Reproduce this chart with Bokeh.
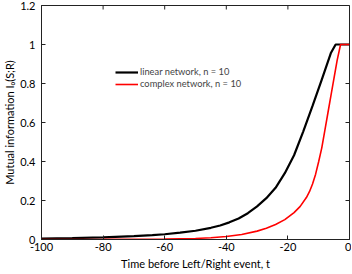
import math
from bokeh.plotting import figure
from bokeh.models import (Range1d, LinearAxis, FixedTicker, CustomJSTickFormatter,
                          Legend, LegendItem, ColumnDataSource)
from bokeh.embed import file_html
from bokeh.resources import INLINE

# ---- data ----
t_linear = [-100, -90, -80, -70, -64, -60, -55, -50, -45, -42, -39, -36, -33, -30,
            -27, -24, -21, -18, -15, -12, -9, -6, -4.5, 0]
i_linear = [0.004, 0.007, 0.011, 0.017, 0.022, 0.027, 0.035, 0.045, 0.060, 0.072,
            0.088, 0.108, 0.135, 0.170, 0.212, 0.265, 0.340, 0.432, 0.555, 0.685,
            0.820, 0.958, 1.0, 1.0]

t_complex = [-100, -80, -60, -50, -45, -40, -35, -30, -27, -24, -21, -18, -16, -14,
             -13, -12, -11, -10, -9, -8, -7, -6, -5, -4, -2.9, 0]
i_complex = [0.0, 0.0005, 0.002, 0.005, 0.009, 0.015, 0.026, 0.043, 0.058, 0.077,
             0.102, 0.138, 0.170, 0.215, 0.245, 0.285, 0.335, 0.400, 0.470, 0.560,
             0.650, 0.740, 0.830, 0.920, 1.0, 1.0]

x_ticks = [-100, -80, -60, -40, -20, 0]
y_ticks = [0, 0.2, 0.4, 0.6, 0.8, 1.0, 1.2]

label_linear = "linear network, n = 10"
label_complex = "complex network, n = 10"
x_title = "Time before Left/Right event, t"
y_title = "Mutual information I\u2080(S;R)"

FONT = "Lato"
X0, X1 = x_ticks[0], x_ticks[-1]
Y0, Y1 = y_ticks[0], y_ticks[-1]

p = figure(width=351, height=272, output_backend="svg", toolbar_location=None,
           x_range=Range1d(X0, X1), y_range=Range1d(Y0, Y1),
           x_axis_location=None, y_axis_location=None,
           min_border_top=5, min_border_right=2, min_border_left=0, min_border_bottom=0)
p.grid.visible = False
p.outline_line_color = "#222222"
p.outline_line_width = 1
p.background_fill_color = "white"

fmt = CustomJSTickFormatter(code="return String(Math.round(tick*10)/10)")


def style(ax):
    ax.axis_line_color = "#222222"
    ax.axis_line_width = 1
    ax.major_tick_in = 4
    ax.major_tick_out = 0
    ax.minor_tick_line_color = None
    ax.major_tick_line_color = "#222222"
    ax.major_label_text_font = FONT
    ax.axis_label_text_font = FONT
    ax.axis_label_text_font_style = "normal"
    ax.axis_label_text_color = "black"
    ax.major_label_text_color = "black"
    ax.major_label_text_font_size = "11px"
    ax.axis_label_text_font_size = "11px"


xb = LinearAxis(ticker=FixedTicker(ticks=x_ticks), formatter=fmt, axis_label=x_title)
style(xb)
xb.major_label_standoff = 3
xb.axis_label_standoff = 3
p.add_layout(xb, "below")

yl = LinearAxis(ticker=FixedTicker(ticks=y_ticks), formatter=fmt, axis_label=y_title)
style(yl)
yl.major_label_standoff = 6
yl.axis_label_standoff = 1
p.add_layout(yl, "left")

# inward ticks on the top and right edges of the box (clipped to the frame)
p.scatter(x=x_ticks, y=[Y1] * len(x_ticks), marker="dash", size=8,
          angle=math.pi / 2, line_color="#222222", line_width=1)
p.scatter(x=[X1] * len(y_ticks), y=y_ticks, marker="dash", size=8,
          line_color="#222222", line_width=1)

src_l = ColumnDataSource(dict(t=t_linear, i=i_linear))
src_c = ColumnDataSource(dict(t=t_complex, i=i_complex))
r_lin = p.line("t", "i", source=src_l, line_color="black", line_width=2.2)
r_cmp = p.line("t", "i", source=src_c, line_color="#ff0000", line_width=1.6)

legend = Legend(items=[LegendItem(label=label_linear, renderers=[r_lin]),
                       LegendItem(label=label_complex, renderers=[r_cmp])],
                location=(74, 150), orientation="vertical",
                border_line_color=None, background_fill_alpha=0,
                padding=0, margin=0, spacing=1,
                glyph_width=23, glyph_height=10, label_height=10,
                label_standoff=2,
                label_text_font=FONT, label_text_font_size="9.3px")
p.add_layout(legend, "center")

open("out.html", "w").write(file_html(p, INLINE))
